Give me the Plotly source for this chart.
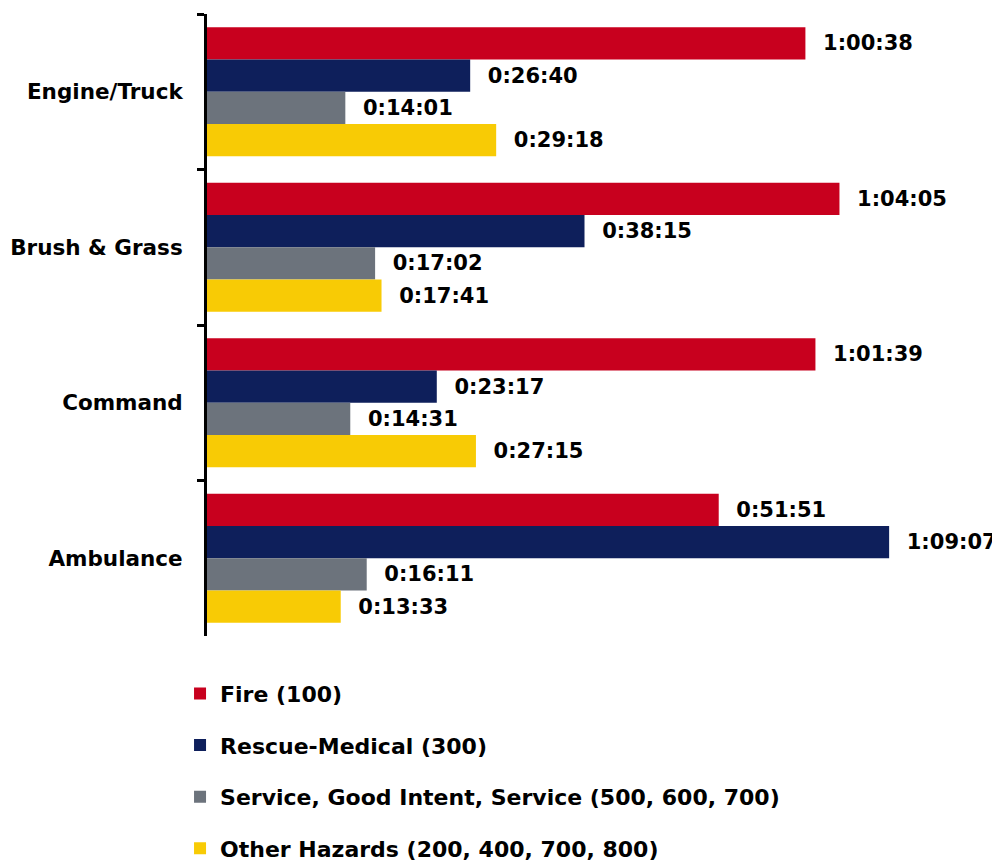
import plotly.graph_objects as go

# categories, top to bottom
units = ["Engine/Truck", "Brush & Grass", "Command", "Ambulance"]

# average times per incident type (h:mm:ss)
fire = ["1:00:38", "1:04:05", "1:01:39", "0:51:51"]
rescue = ["0:26:40", "0:38:15", "0:23:17", "1:09:07"]
service = ["0:14:01", "0:17:02", "0:14:31", "0:16:11"]
other = ["0:29:18", "0:17:41", "0:27:15", "0:13:33"]

series_names = ["Fire (100)", "Rescue-Medical (300)",
                "Service, Good Intent, Service (500, 600, 700)",
                "Other Hazards (200, 400, 700, 800)"]
colors = ["#C8001E", "#0E1F5B", "#6C737C", "#F8CB05"]

FONT = "DejaVu Sans"


def to_sec(t):
    h, m, s = t.split(":")
    return int(h) * 3600 + int(m) * 60 + int(s)


fig = go.Figure()
for name, vals, col in zip(series_names, [fire, rescue, service, other], colors):
    fig.add_trace(go.Bar(
        y=units, x=[to_sec(v) for v in vals], orientation="h",
        name=name, marker_color=col, marker_line_width=0,
        text=["\u00a0\u00a0" + v for v in vals],
        textposition="outside", cliponaxis=False,
        textfont=dict(family=FONT, size=21, color="black", weight="bold"),
        legendgroup=name,
    ))

# page body adds an 8px offset, so the figure is 8px smaller each way
fig.update_layout(
    width=992, height=853,
    barmode="group", bargap=0.17, bargroupgap=0,
    plot_bgcolor="white", paper_bgcolor="white",
    margin=dict(l=199, r=0, t=6, b=225, autoexpand=False),
    font=dict(family=FONT, size=21, color="black"),
    showlegend=True,
    legend=dict(orientation="v", x=-0.034, xanchor="left", y=-0.059, yanchor="top",
                font=dict(family=FONT, size=22, weight="bold"),
                tracegroupgap=20, traceorder="grouped"),
)
fig.update_xaxes(range=[0, 4821], visible=False, showgrid=False, zeroline=False)
fig.update_yaxes(autorange="reversed", showline=True, linecolor="black", linewidth=3,
                 ticks="outside", tickson="boundaries", ticklen=7, tickwidth=3,
                 tickcolor="black", showgrid=False, ticklabelstandoff=17,
                 automargin=False,
                 tickfont=dict(family=FONT, size=21.5, weight="bold"))

fig.write_html("out.html")
